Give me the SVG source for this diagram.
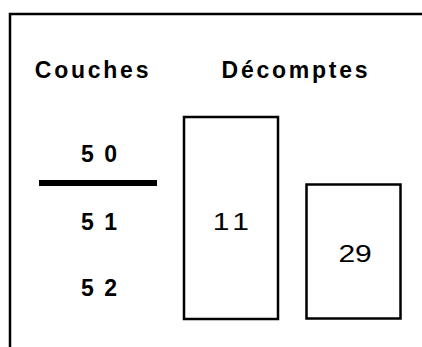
<svg xmlns="http://www.w3.org/2000/svg" width="422" height="347" viewBox="0 0 422 347">
<style>
.hdr{font-family:"Liberation Sans",Arial,sans-serif;font-weight:bold;font-size:23px;letter-spacing:2.75px;fill:#000}
.lay{font-family:"Liberation Sans",Arial,sans-serif;font-weight:bold;font-size:23px;letter-spacing:2px;fill:#000;text-anchor:middle}
.cnt{font-family:"Liberation Sans",Arial,sans-serif;font-size:24px;fill:#000}
.box{fill:#fff;stroke:#000;stroke-width:2.5}
</style>
<rect x="0" y="0" width="422" height="347" fill="#fff"/>
<rect id="frame" x="10" y="14" width="440" height="360" fill="none" stroke="#000" stroke-width="2.5"/>
<g id="headers">
<text class="hdr" x="34.8" y="77.5">Couches</text>
<text class="hdr" x="221.6" y="77.5">Décomptes</text>
</g>
<g id="layers">
<text class="lay" x="100" y="162">5 0</text>
<text class="lay" x="100" y="230">5 1</text>
<text class="lay" x="100" y="296">5 2</text>
</g>
<g id="connectors">
<line x1="39" y1="183" x2="157" y2="183" stroke="#000" stroke-width="6"/>
</g>
<g id="count1">
<rect class="box" x="184" y="117" width="94" height="202"/>
<text class="cnt" transform="translate(212.7,230) scale(1.25,1)" letter-spacing="4">11</text>
</g>
<g id="count2">
<rect class="box" x="306.5" y="184.5" width="94" height="134"/>
<text class="cnt" transform="translate(338.4,262) scale(1.25,1)">29</text>
</g>
</svg>
